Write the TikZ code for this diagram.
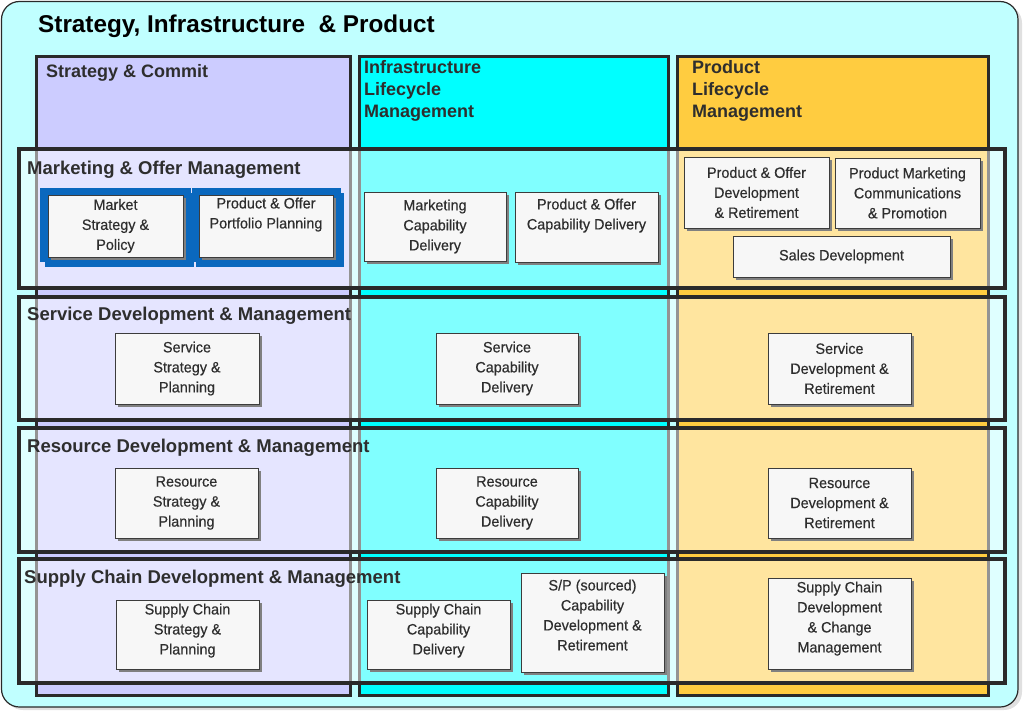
\documentclass[tikz,border=0pt]{standalone}
\usepackage{fontspec}
\setmainfont{Liberation Sans}
\newfontfamily\boxfont[FakeStretch=0.96,FakeBold=0.35]{Liberation Sans}
\usetikzlibrary{shadows}
\definecolor{bgcyan}{HTML}{C0FFFF}
\definecolor{lav}{HTML}{CCCCFF}
\definecolor{cyn}{HTML}{00FFFF}
\definecolor{org}{HTML}{FFCC40}
\definecolor{frame}{HTML}{2A2A2A}
\definecolor{txt}{HTML}{2E2E2E}
\definecolor{boxfill}{HTML}{F7F7F7}
\definecolor{boxline}{HTML}{3C3C3C}
\definecolor{blu}{HTML}{0A68BE}
\tikzset{
  colbox/.style={draw=frame, line width=3pt},
  rowbox/.style={draw=frame, line width=3.5pt, fill=white, fill opacity=0.5},
  coltitle/.style={anchor=west, font=\fontsize{18}{22}\selectfont\bfseries, text=txt, align=left, inner sep=0pt},
  rowtitle/.style={anchor=west, font=\fontsize{18.5}{22}\selectfont\bfseries, text=txt, inner sep=0pt},
  ibox/.style={draw=boxline, line width=0.9pt, fill=boxfill, align=center, inner sep=0pt,
    font=\boxfont\fontsize{15}{20}\selectfont, text=txt,
    drop shadow={shadow xshift=3pt, shadow yshift=-3pt, fill=black!50, opacity=1}},
}
\newcommand\ibx[6]{%
  \node[ibox, minimum width={#4pt-#2pt}, minimum height={#5pt-#3pt}] (#1) at ({(#2+#4)/2},{(#3+#5)/2}) {#6};}
\begin{document}
\begin{tikzpicture}[x=1pt,y=-1pt]
\useasboundingbox (0,0) rectangle (1024,712);
% outer frame
\fill[black!12, rounded corners=18pt] (5,5) rectangle (1022,710);
\draw[fill=bgcyan, draw=frame, line width=1.2pt, rounded corners=18pt] (1.5,1.5) rectangle (1018,707);
\node[anchor=west, font=\fontsize{24.3}{28}\selectfont\bfseries, inner sep=0pt] (title) at (38,26) {Strategy, Infrastructure \ \& Product};
% columns
\draw[colbox, fill=lav] (36,56) rectangle (350,695);
\draw[colbox, fill=cyn] (359,56) rectangle (668,695);
\draw[colbox, fill=org] (677,56) rectangle (988,695);
% rows
\draw[rowbox] (19,149) rectangle (1005,288);
\draw[rowbox] (19,297) rectangle (1005,420);
\draw[rowbox] (19,428) rectangle (1005,552);
\draw[rowbox] (19,559) rectangle (1005,683);
% column titles
\node[coltitle] (c1) at (46,73) {Strategy \& Commit};
\node[coltitle, anchor=north west] (c2) at (364,60) {Infrastructure\\Lifecycle\\Management};
\node[coltitle, anchor=north west] (c3) at (692,60) {Product\\Lifecycle\\Management};
% row titles
\node[rowtitle] (r1) at (27,170) {Marketing \& Offer Management};
\node[rowtitle] (r2) at (27,316) {Service Development \& Management};
\node[rowtitle] (r3) at (27,448) {Resource Development \& Management};
\node[rowtitle] (r4) at (24,579) {Supply Chain Development \& Management};
% blue frames
\fill[blu] (45,193) rectangle (194,267);
\fill[blu] (40,188) rectangle (191,262);
\fill[blu] (196,193) rectangle (344,267);
\fill[blu] (192,188) rectangle (341,262);
\begin{scope}[ibox/.append style={drop shadow={shadow xshift=0pt, shadow yshift=0pt, opacity=0}}]
\ibx{ms}{48}{195}{183}{257}{Market\\Strategy \&\\Policy}
\ibx{pop}{199}{195}{333}{257}{Product \& Offer\\Portfolio Planning\\\strut}
\end{scope}
% row 1
\ibx{mcd}{364}{192}{506}{261}{Marketing\\Capability\\Delivery}
\ibx{pocd}{515}{192}{658}{262}{Product \& Offer\\Capability Delivery\\\strut}
\ibx{podr}{684}{157}{829}{228}{Product \& Offer\\Development\\\& Retirement}
\ibx{pmcp}{835}{158}{980}{228}{Product Marketing\\Communications\\\& Promotion}
\ibx{sd}{733}{236}{950}{277}{Sales Development}
% row 2
\ibx{ssp}{115}{333}{259}{404}{Service\\Strategy \&\\Planning}
\ibx{scd}{436}{333}{578}{404}{Service\\Capability\\Delivery}
\ibx{sdr}{768}{333}{911}{404}{Service\\Development \&\\Retirement}
% row 3
\ibx{rsp}{115}{468}{258}{538}{Resource\\Strategy \&\\Planning}
\ibx{rcd}{436}{468}{578}{538}{Resource\\Capability\\Delivery}
\ibx{rdr}{768}{468}{911}{538}{Resource\\Development \&\\Retirement}
% row 4
\ibx{scsp}{116}{600}{259}{669}{Supply Chain\\Strategy \&\\Planning\\[-9pt]}
\ibx{sccd}{367}{600}{510}{669}{Supply Chain\\Capability\\Delivery\\[-9pt]}
\ibx{spcd}{521}{573}{664}{672}{S/P (sourced)\\Capability\\Development \&\\Retirement\\[-5pt]}
\ibx{scdc}{768}{578}{911}{669}{Supply Chain\\Development\\\& Change\\Management\\[-7pt]}
\end{tikzpicture}
\end{document}
